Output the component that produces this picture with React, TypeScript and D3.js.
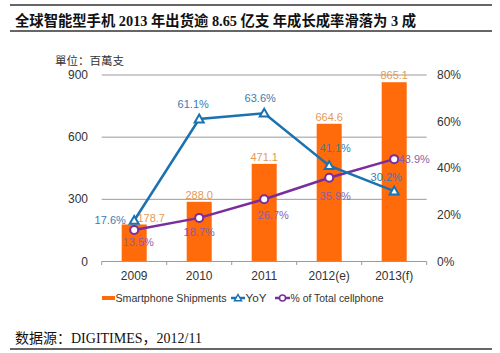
import React from "react";
import * as d3 from "d3";

const years = ["2009", "2010", "2011", "2012(e)", "2013(f)"];
const shipments = [178.7, 288.0, 471.1, 664.6, 865.1];
const yoy = [17.6, 61.1, 63.6, 41.1, 30.2];
const shareOfTotal = [13.5, 18.7, 26.7, 35.9, 43.9];
const leftTicks = [0, 300, 600, 900];
const rightTicks = [0, 20, 40, 60, 80];

// label offsets for the line labels (dx, dy relative to point)
const yoyLabelPos = [[-24, 4], [-6, -11], [-4, -11], [6, -14], [-8, -10]];
const shareLabelPos = [[4, 16], [0, 18], [9, 20], [6, 22], [20, 4]];

const width = 500;
const height = 353;
const sans = "Arial, 'Liberation Sans', 'Noto Sans CJK SC', sans-serif";
const serif = "'Times New Roman', 'Liberation Serif', 'Noto Sans CJK SC', serif";

export default function App() {
  const x = d3.scaleBand().domain(years).range([101.7, 426.7]).paddingInner(0.615).paddingOuter(0.3075);
  const yLeft = d3.scaleLinear().domain([0, 900]).range([261.5, 75]);
  const yRight = d3.scaleLinear().domain([0, 80]).range([261.5, 75]);
  const cx = (i) => (x(years[i]) as number) + x.bandwidth() / 2;

  const line = d3
    .line<number>()
    .x((d, i) => cx(i))
    .y((d) => yRight(d));

  const blue = "#1B72B0";
  const purple = "#7A2E9E";
  const orange = "#FF6A0A";

  const tri = (px, py, r = 4.5) =>
    `M${px},${py - r}L${px + r},${py + r * 0.75}L${px - r},${py + r * 0.75}Z`;

  return (
    <svg width={width} height={height} style={{ position: "absolute", left: 0, top: 0, background: "#fff" }}>
      {/* header rules */}
      <line x1={10} x2={492} y1={5} y2={5} stroke="#333" strokeWidth={1.5} />
      <text x={15} y={26} fontFamily={serif} fontWeight="bold" fontSize={14.5} fill="#111" textLength={401} lengthAdjust="spacingAndGlyphs">
        全球智能型手机 2013 年出货逾 8.65 亿支 年成长成率滑落为 3 成
      </text>
      <line x1={10} x2={492} y1={31} y2={31} stroke="#333" strokeWidth={1.5} />

      <text x={55} y={65} fontFamily={sans} fontSize={11.5} fill="#333">
        單位：百萬支
      </text>

      {/* gridlines */}
      {leftTicks.slice(1).map((t) => (
        <line key={t} x1={101.7} x2={426.7} y1={yLeft(t)} y2={yLeft(t)} stroke="#9a9a9a" strokeWidth={1} />
      ))}
      {leftTicks.map((t) => (
        <text key={t} x={88} y={yLeft(t) + 4} textAnchor="end" fontFamily={sans} fontSize={12} fill="#333">
          {t}
        </text>
      ))}
      {rightTicks.map((t) => (
        <text key={t} x={437} y={yRight(t) + 4} fontFamily={sans} fontSize={12} fill="#333">
          {t}%
        </text>
      ))}

      {/* bars */}
      {shipments.map((v, i) => (
        <rect key={i} x={x(years[i])} y={yLeft(v)} width={x.bandwidth()} height={yLeft(0) - yLeft(v)} fill={orange} />
      ))}

      {/* x axis */}
      <line x1={101.7} x2={426.7} y1={261.5} y2={261.5} stroke="#9a9a9a" />
      {d3.range(years.length + 1).map((i) => {
        const bx = 101.7 + i * x.step();
        return <line key={i} x1={bx} x2={bx} y1={261.5} y2={265} stroke="#9a9a9a" />;
      })}
      {years.map((yr, i) => (
        <text key={yr} x={cx(i)} y={280} textAnchor="middle" fontFamily={sans} fontSize={12} fill="#333">
          {yr}
        </text>
      ))}

      {/* bar labels */}
      {shipments.map((v, i) => (
        <text key={i} x={cx(i) + (i === 0 ? 17 : 0)} y={yLeft(v) - (i === 0 ? 2 : 3)} textAnchor="middle" fontFamily={sans} fontSize={11} fill="#E59A55">
          {v.toFixed(1)}
        </text>
      ))}

      {/* lines */}
      <path d={line(shareOfTotal)} fill="none" stroke={purple} strokeWidth={2.5} />
      <path d={line(yoy)} fill="none" stroke={blue} strokeWidth={2.5} />
      {shareOfTotal.map((v, i) => (
        <circle key={i} cx={cx(i)} cy={yRight(v)} r={4} fill="#fff" stroke={purple} strokeWidth={2} />
      ))}
      {yoy.map((v, i) => (
        <path key={i} d={tri(cx(i), yRight(v))} fill="#fff" stroke={blue} strokeWidth={2} />
      ))}

      {yoy.map((v, i) => (
        <text key={i} x={cx(i) + yoyLabelPos[i][0]} y={yRight(v) + yoyLabelPos[i][1]} textAnchor="middle" fontFamily={sans} fontSize={11} fill="#3A7DB0">
          {v.toFixed(1)}%
        </text>
      ))}
      {shareOfTotal.map((v, i) => (
        <text key={i} x={cx(i) + shareLabelPos[i][0]} y={yRight(v) + shareLabelPos[i][1]} textAnchor="middle" fontFamily={sans} fontSize={11} fill="#8B5FA8">
          {v.toFixed(1)}%
        </text>
      ))}

      {/* legend */}
      <g fontFamily={sans} fontSize={10.5} fill="#333">
        <rect x={102} y={296} width={13} height={4} fill={orange} />
        <text x={115.5} y={302} textLength={111} lengthAdjust="spacingAndGlyphs">Smartphone Shipments</text>
        <line x1={231} x2={245} y1={298} y2={298} stroke={blue} strokeWidth={2.5} />
        <path d={tri(238, 298, 3.5)} fill="#fff" stroke={blue} strokeWidth={1.5} />
        <text x={245.5} y={302} textLength={21} lengthAdjust="spacingAndGlyphs">YoY</text>
        <line x1={275} x2={290} y1={298} y2={298} stroke={purple} strokeWidth={2.5} />
        <circle cx={282.5} cy={298} r={3} fill="#fff" stroke={purple} strokeWidth={1.5} />
        <text x={290.5} y={302} textLength={93} lengthAdjust="spacingAndGlyphs">% of Total cellphone</text>
      </g>

      <text x={15} y={343} fontFamily={serif} fontSize={14} fill="#111">
        数据源：DIGITIMES，2012/11
      </text>
      <line x1={10} x2={492} y1={349} y2={349} stroke="#333" strokeWidth={1.5} />
    </svg>
  );
}
